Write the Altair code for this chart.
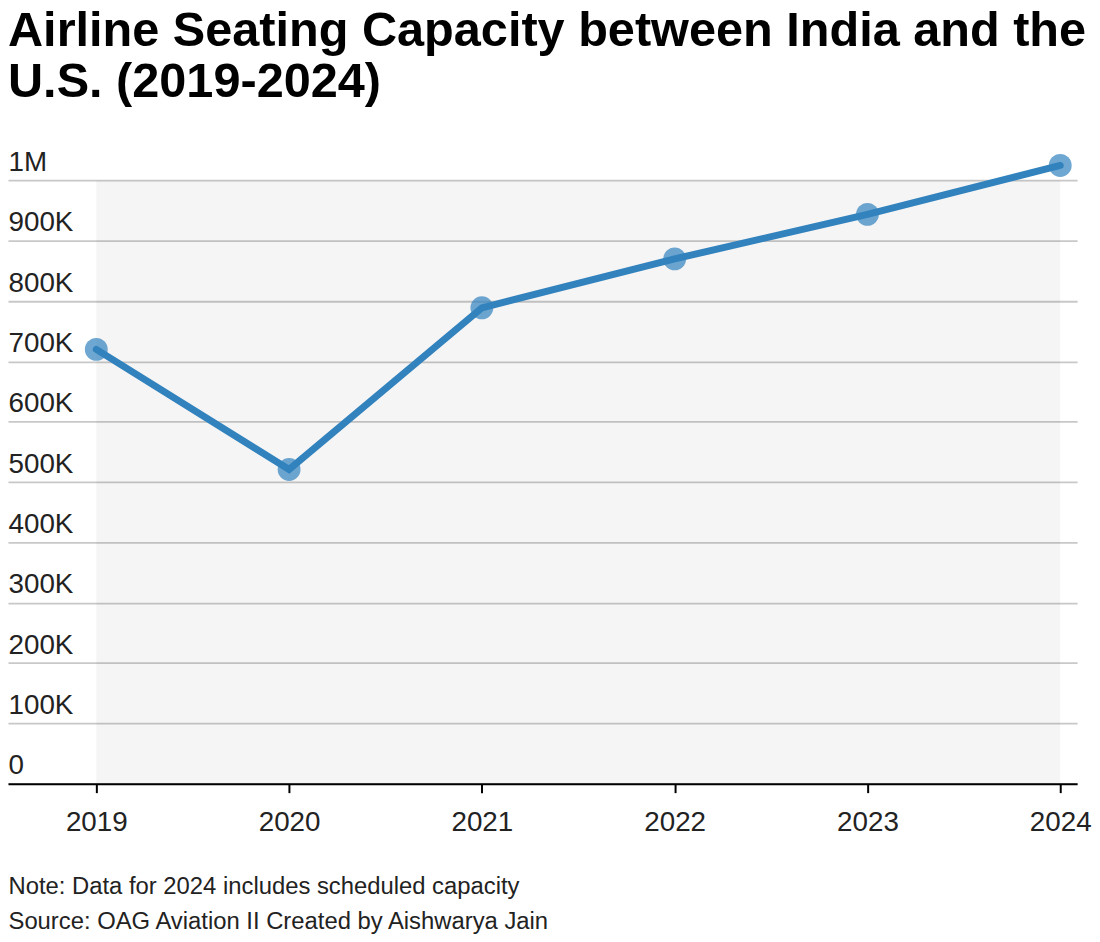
import altair as alt
import pandas as pd

years = [2019, 2020, 2021, 2022, 2023, 2024]
capacity = [720000, 521000, 789000, 870000, 944000, 1025000]
y_ticks = [0, 100000, 200000, 300000, 400000, 500000, 600000, 700000, 800000, 900000, 1000000]

title_lines = ["Airline Seating Capacity between India and the", "U.S. (2019-2024)"]
footer_lines = ["Note: Data for 2024 includes scheduled capacity",
                "Source: OAG Aviation II Created by Aishwarya Jain"]

FONT = "Liberation Sans"
BLUE = "#3182bd"

df = pd.DataFrame({"year": years, "capacity": capacity})
bg = pd.DataFrame({"x0": [min(years)], "x1": [max(years)], "y0": [y_ticks[0]], "y1": [y_ticks[-1]]})

x_scale = alt.Scale(domain=[2018.542, 2024.0875], nice=False, zero=False)
y_scale = alt.Scale(domain=[0, 1050000], nice=False)

x_axis = alt.Axis(
    values=years, format="d", grid=False,
    domainColor="black", domainWidth=2,
    tickColor="black", tickWidth=2, tickSize=9,
    labelFontSize=28, labelFont=FONT, labelColor="#222222", labelPadding=16,
    labelFlush=False,
    title=footer_lines, titleFont=FONT, titleFontSize=24, titleFontWeight="normal",
    titleColor="#222222", titleAnchor="start", titleAlign="left", titleBaseline="alphabetic",
    titleX=0, titleY=111, titleLineHeight=35,
)

y_axis = alt.Axis(
    values=y_ticks, title=None, domain=False, ticks=False, tickSize=0,
    labelAlign="left", labelBaseline="alphabetic", labelPadding=0, labelOffset=-10,
    labelFontSize=28, labelFont=FONT, labelColor="#222222",
    labelExpr="datum.value == 0 ? '0' : (datum.value >= 1000000 ? (datum.value/1000000) + 'M' : (datum.value/1000) + 'K')",
    grid=True, gridColor="#c8c8c8", gridWidth=1.8,
)

rect = alt.Chart(bg).mark_rect(color="black", opacity=0.04).encode(
    x=alt.X("x0:Q", scale=x_scale, axis=x_axis),
    x2="x1:Q",
    y=alt.Y("y0:Q", scale=y_scale, axis=y_axis),
    y2="y1:Q",
)

points = alt.Chart(df).mark_circle(size=530, color=BLUE, opacity=0.7).encode(
    x=alt.X("year:Q", scale=x_scale),
    y=alt.Y("capacity:Q", scale=y_scale),
)

line = alt.Chart(df).mark_line(color=BLUE, strokeWidth=7, strokeCap="round").encode(
    x=alt.X("year:Q", scale=x_scale),
    y=alt.Y("capacity:Q", scale=y_scale),
)

chart = alt.layer(rect, points, line).properties(
    width=1077,
    height=638,
    autosize=alt.AutoSizeParams(type="none"),
    padding={"left": 0, "top": 140, "right": 15, "bottom": 150},
    title=alt.Title(
        text=title_lines, font=FONT, fontSize=49, fontWeight="bold", color="black",
        anchor="start", lineHeight=52, offset=42, frame="bounds",
    ),
).configure_view(stroke=None)

chart.save("out.html", embed_options={"renderer": "svg", "actions": False})
